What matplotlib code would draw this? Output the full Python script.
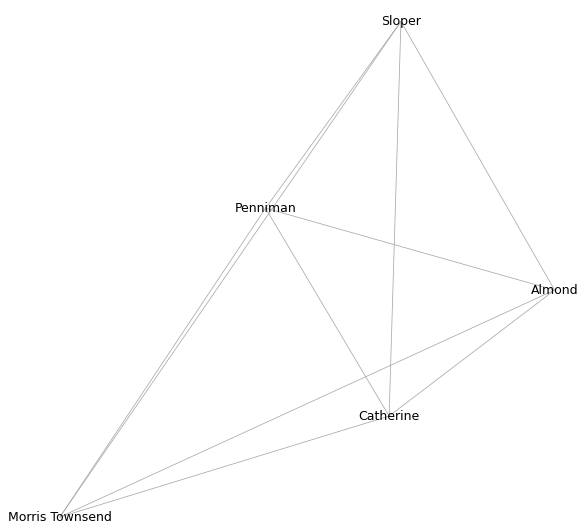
import itertools
import matplotlib
matplotlib.use("Agg")
import matplotlib.pyplot as plt

# node layout (normalised layout coordinates)
names = ["Sloper", "Penniman", "Almond", "Catherine", "Morris Townsend"]
xs = [0.383, -0.166, 1.006, 0.335, -1.0]
ys = [1.002, 0.248, -0.083, -0.592, -1.0]

# every character talks to every other one
edges = list(itertools.combinations(range(len(names)), 2))

fig = plt.figure(figsize=(5.77, 5.22), dpi=100)
ax = fig.add_axes([0, 0, 1, 1])

for a, b in edges:
    ax.plot([xs[a], xs[b]], [ys[a], ys[b]], color="#a8a8a8", lw=0.55, zorder=1)

for name, x, y in zip(names, xs, ys):
    ax.text(x, y, name, ha="center", va="center", fontsize=9, zorder=2)

ax.set_xlim(-1.243, 1.097)
ax.set_ylim(-1.020, 1.089)
ax.axis("off")

fig.savefig("out.png", dpi=100)
